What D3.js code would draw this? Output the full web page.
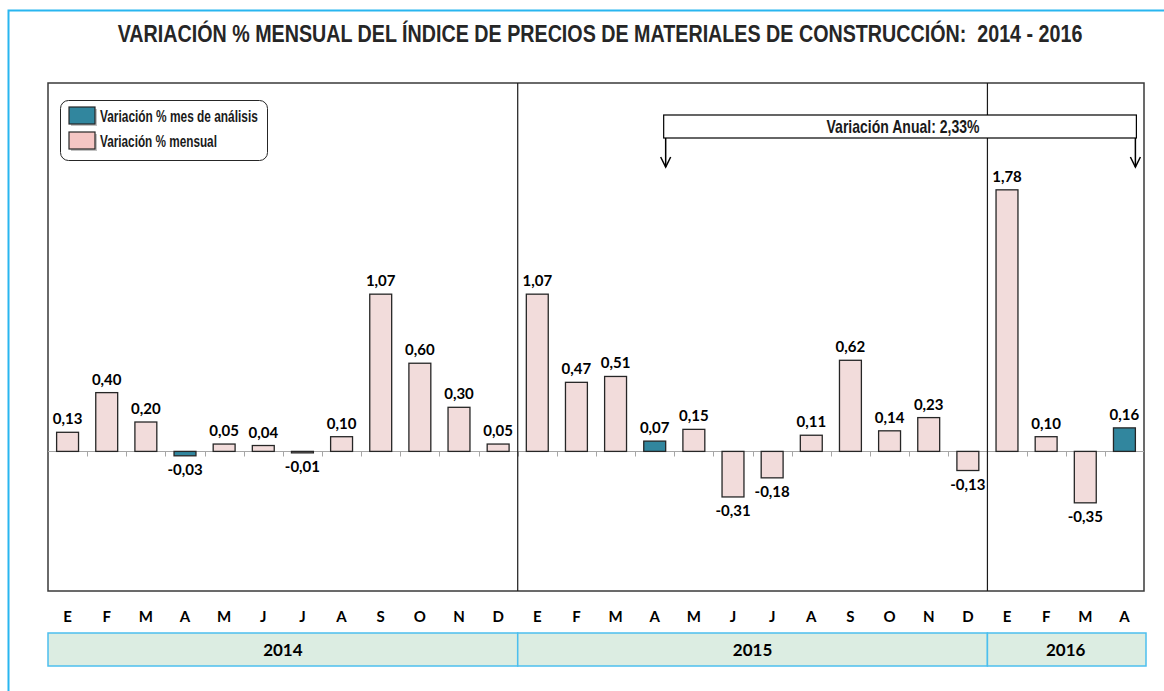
<!DOCTYPE html>
<html>
<head>
<meta charset="utf-8">
<script src="https://cdnjs.cloudflare.com/ajax/libs/d3/7.8.5/d3.min.js"></script>
<style>
    html, body { margin: 0; padding: 0; background: #ffffff; }
    svg { display: block; }
</style>
</head>
<body>
<div id="chart"></div>
<script>

var months = ["E", "F", "M", "A", "M", "J", "J", "A", "S", "O", "N", "D",
              "E", "F", "M", "A", "M", "J", "J", "A", "S", "O", "N", "D",
              "E", "F", "M", "A"];

var values = [0.13, 0.40, 0.20, -0.03, 0.05, 0.04, -0.01, 0.10, 1.07, 0.60, 0.30, 0.05,
              1.07, 0.47, 0.51, 0.07, 0.15, -0.31, -0.18, 0.11, 0.62, 0.14, 0.23, -0.13,
              1.78, 0.10, -0.35, 0.16];

// months of analysis (abril of each year)
var highlighted = [3, 15, 27];

var yearLabels = ["2014", "2015", "2016"];
var yearCounts = [12, 12, 4];

var legendLabels = ["Variación % mes de análisis", "Variación % mensual"];

var titleText = "VARIACIÓN % MENSUAL DEL ÍNDICE DE PRECIOS DE MATERIALES DE CONSTRUCCIÓN:  2014 - 2016";
var annualText = "Variación Anual: 2,33%";
// annual variation spans from A 2015 to A 2016
var annualFrom = 15;
var annualTo = 27;

(function() {

    var width = 1164;
    var height = 691;

    var plot = { left: 48, right: 1144, top: 83, bottom: 591 };

    var pink = "#f2dcdb";
    var teal = "#31869e";
    var sans = "'Liberation Sans', Arial, sans-serif";
    var labelFont = "Lato, 'Open Sans', sans-serif";

    var svg = d3.select("#chart").append("svg")
        .attr("width", width)
        .attr("height", height);

    //no narrow font installed, so squeeze the text horizontally to a target width
    var narrowText = function(parent, px, py, anchor, str, size, targetWidth) {
        var g = parent.append("g");
        var t = g.append("text")
            .attr("text-anchor", anchor)
            .style("font-family", sans)
            .style("font-weight", "bold")
            .style("font-size", size + "px")
            .style("fill", "#1a1a1a")
            .style("white-space", "pre")
            .text(str);
        var w = t.node().getComputedTextLength();
        var k = w > 0 ? targetWidth / w : 1;
        g.attr("transform", "translate(" + px + "," + py + ") scale(" + k + ",1)");
        return t;
    };

    //outer frame, only the top and left edges are inside the picture
    svg.append("rect")
        .attr("x", 8.5).attr("y", 10.5)
        .attr("width", width + 20).attr("height", height + 20)
        .style("fill", "none")
        .style("stroke", "#29b6f0")
        .style("stroke-width", 2);

    narrowText(svg, 600, 42, "middle", titleText, 23, 965)
        .style("fill", "#262626");

    var x = d3.scaleBand()
        .domain(d3.range(values.length))
        .range([plot.left, plot.right])
        .paddingInner(0.44)
        .paddingOuter(0.22);

    var y = d3.scaleLinear()
        .domain([-0.95, 2.507])
        .range([plot.bottom, plot.top]);

    var step = x.step();
    var slotStart = function(i) { return plot.left + i * step; };

    //plot area frame
    svg.append("rect")
        .attr("x", plot.left).attr("y", plot.top)
        .attr("width", plot.right - plot.left)
        .attr("height", plot.bottom - plot.top)
        .style("fill", "#ffffff")
        .style("stroke", "#3a3a3a")
        .style("stroke-width", 1.5);

    //zero axis with small ticks between the months
    var zeroY = Math.round(y(0)) + 0.5;
    svg.append("line")
        .attr("x1", plot.left).attr("x2", plot.right)
        .attr("y1", zeroY).attr("y2", zeroY)
        .style("stroke", "#a6a6a6")
        .style("stroke-width", 1);

    svg.append("g").selectAll("line")
        .data(d3.range(1, values.length))
        .enter().append("line")
        .attr("x1", function(d) { return Math.round(slotStart(d)) + 0.5; })
        .attr("x2", function(d) { return Math.round(slotStart(d)) + 0.5; })
        .attr("y1", zeroY).attr("y2", zeroY + 5)
        .style("stroke", "#a6a6a6")
        .style("stroke-width", 1);

    //year separators
    var cumulative = [];
    var acc = 0;
    yearCounts.forEach(function(c) { cumulative.push(acc); acc += c; });

    svg.append("g").selectAll("line")
        .data(cumulative.slice(1))
        .enter().append("line")
        .attr("x1", function(d) { return slotStart(d); })
        .attr("x2", function(d) { return slotStart(d); })
        .attr("y1", plot.top).attr("y2", plot.bottom)
        .style("stroke", "#1a1a1a")
        .style("stroke-width", 1.2);

    //bars
    svg.append("g").selectAll("rect")
        .data(values)
        .enter().append("rect")
        .attr("x", function(d, i) { return x(i); })
        .attr("width", x.bandwidth())
        .attr("y", function(d) { return y(Math.max(0, d)); })
        .attr("height", function(d) { return Math.max(1, Math.abs(y(d) - y(0))); })
        .style("fill", function(d, i) { return highlighted.indexOf(i) >= 0 ? teal : pink; })
        .style("stroke", "#262626")
        .style("stroke-width", 1.3);

    //value labels, comma decimals and plain hyphen for negatives
    svg.append("g").selectAll("text")
        .data(values)
        .enter().append("text")
        .attr("x", function(d, i) { return x(i) + x.bandwidth() / 2; })
        .attr("y", function(d) { return d >= 0 ? y(d) - 8 : y(d) + 19; })
        .attr("text-anchor", "middle")
        .style("font-family", labelFont)
        .style("font-weight", "bold")
        .style("font-size", "15px")
        .style("fill", "#000000")
        .text(function(d) { return d3.format(".2f")(d).replace(".", ",").replace("\u2212", "-"); });

    //month labels
    svg.append("g").selectAll("text")
        .data(months)
        .enter().append("text")
        .attr("x", function(d, i) { return x(i) + x.bandwidth() / 2; })
        .attr("y", 622)
        .attr("text-anchor", "middle")
        .style("font-family", labelFont)
        .style("font-weight", "bold")
        .style("font-size", "15px")
        .style("fill", "#000000")
        .text(function(d) { return d; });

    //year bands
    var years = svg.append("g").selectAll("g")
        .data(yearLabels)
        .enter().append("g");

    years.append("rect")
        .attr("x", function(d, i) { return slotStart(cumulative[i]); })
        .attr("y", 633)
        .attr("width", function(d, i) { return yearCounts[i] * step + (i === yearLabels.length - 1 ? 2 : 0); })
        .attr("height", 33)
        .style("fill", "#dcede2")
        .style("stroke", "#4cbfee")
        .style("stroke-width", 1.5);

    years.append("text")
        .attr("x", function(d, i) { return slotStart(cumulative[i]) + yearCounts[i] * step / 2; })
        .attr("y", 656)
        .attr("text-anchor", "middle")
        .style("font-family", labelFont)
        .style("font-weight", "bold")
        .style("font-size", "17px")
        .style("fill", "#000000")
        .text(function(d) { return d; });

    //annual variation annotation
    var arrowX = [annualFrom, annualTo].map(function(i) { return slotStart(i) + 0.78 * step; });
    var boxTop = 115;
    var boxBottom = 138;

    var arrows = svg.append("g")
        .style("stroke", "#000000")
        .style("stroke-width", 1.5)
        .style("fill", "none");

    arrowX.forEach(function(ax) {
        arrows.append("line")
            .attr("x1", ax).attr("x2", ax)
            .attr("y1", boxBottom).attr("y2", 167);
        arrows.append("path")
            .attr("d", "M" + (ax - 5) + ",157 L" + ax + ",167 L" + (ax + 5) + ",157");
    });

    svg.append("rect")
        .attr("x", arrowX[0] - 2).attr("y", boxTop)
        .attr("width", arrowX[1] - arrowX[0] + 3)
        .attr("height", boxBottom - boxTop)
        .style("fill", "#ffffff")
        .style("stroke", "#000000")
        .style("stroke-width", 1.2);

    narrowText(svg, 903, 133, "middle", annualText, 18, 153);

    //legend
    var legend = svg.append("g");

    legend.append("rect")
        .attr("x", 60.5).attr("y", 100.5)
        .attr("width", 207).attr("height", 60)
        .attr("rx", 8).attr("ry", 8)
        .style("fill", "#ffffff")
        .style("stroke", "#262626")
        .style("stroke-width", 1);

    var legendColours = [teal, "#f5c6c4"];
    var legendWidths = [158, 117];
    legendLabels.forEach(function(label, i) {
        var item = legend.append("g")
            .attr("transform", "translate(69," + (107 + i * 25) + ")");

        item.append("rect")
            .attr("x", 2).attr("y", 2)
            .attr("width", 26).attr("height", 17)
            .style("fill", "#9a9a9a")
            .style("opacity", 0.6);

        item.append("rect")
            .attr("width", 26).attr("height", 17)
            .style("fill", legendColours[i])
            .style("stroke", "#262626")
            .style("stroke-width", 1.2);

        narrowText(item, 31, 15, "start", label, 16, legendWidths[i]);
    });

}());
</script>
</body>
</html>
